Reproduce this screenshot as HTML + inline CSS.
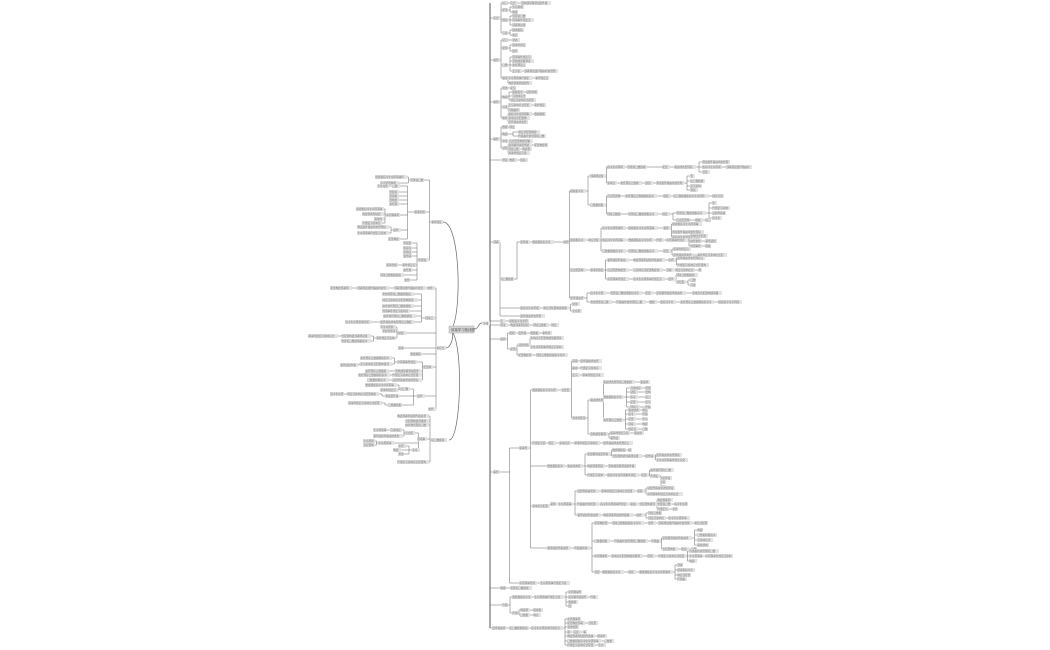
<!DOCTYPE html>
<html><head><meta charset="utf-8"><style>
html,body{margin:0;padding:0;background:#fff;width:1050px;height:650px;overflow:hidden}
svg{display:block}
text{font-family:"Liberation Sans","Noto Sans CJK SC",sans-serif;font-size:2.6px;fill:#777}
</style></head><body>
<svg id="s" width="1050" height="650" viewBox="0 0 1050 650" xmlns="http://www.w3.org/2000/svg">
<g fill="none" stroke="#666" stroke-width="0.7">
<path d="M449,330 C462,330 462,222 443,222"/>
<path d="M449,330 C456,330 452,348 446,348"/>
<path d="M449,330 C464,330 462,440 449,440"/>
<path d="M474,329 C479,329 478,323 482,323"/>
<line x1="490" y1="3" x2="490" y2="628" stroke="#444" stroke-width="0.9"/>
<line x1="489" y1="323" x2="490" y2="323"/>
</g>
<rect x="449" y="326" width="25" height="7" fill="#d6d6d6" stroke="#999" stroke-width="0.4"/>
<text x="451" y="331" style="font-size:3.4px;fill:#555">前端学习路线图</text>
<rect x="482" y="321.5" width="8" height="3.5" fill="#e4e4e4"/>
<text x="483" y="324.3">主线</text>
<g id="g"></g>
</svg>
<script>
function n(x,y,w){return {x:x,y:y,w:w,k:Array.prototype.slice.call(arguments,3)};}
var R=[
// top groups
n(493,18,7,n(502,3,6,n(510,3,8,n(521,3,30))),n(502,10,6,n(512,7,12),n(512,12,6)),n(502,20,6,n(512,16,14),n(512,20,22),n(512,25,14)),n(502,33,6,n(512,30,12),n(512,35,6))),
n(493,60,7,n(502,40,6,n(512,40,8)),n(502,48,6,n(512,45,14),n(512,51,6)),n(502,65,6,n(512,57,20),n(512,61,22),n(512,65,14),n(512,71,10,n(524,71,34))),n(502,78,6,n(508,78,24,n(535,78,14)),n(508,83,24))),
n(493,102,7,n(502,88,6,n(510,88,6)),n(502,97,6,n(512,92,12,n(526,92,12)),n(512,96,14),n(510,100,26)),n(502,107,6,n(508,105,24,n(534,105,12)),n(508,110,12)),n(502,118,6,n(508,114,24,n(534,114,12)),n(508,118,22),n(508,122,20))),
n(493,139,7,n(502,127,6,n(509,127,6)),n(502,134,6,n(518,132,22),n(518,136,28)),n(502,141,6,n(509,141,24)),n(502,148,6,n(508,145,24,n(534,145,14)),n(508,149,12,n(522,149,10)),n(508,153,22))),
n(502,160,6,n(509,160,8,n(520,160,8))),
// big middle group
n(493,242,7,
 n(500,279,14,
  n(520,242,10,n(532,242,22,n(563,242,6,
   n(570,191,16,
    n(590,176,16,n(607,167,18,n(627,167,20,n(662,167,8,n(674,167,22,n(702,162,28),n(702,167,20,n(726,167,26)),n(702,172,8))))),
                 n(607,183,10,n(620,183,22,n(645,183,8,n(656,183,28,n(690,176,5),n(690,181,15),n(690,186,12),n(690,190,8)))))),
    n(590,205,16,n(607,196,14,n(625,196,32,n(663,196,8,n(673,196,36,n(712,196,12))))),
                 n(607,214,14,n(628,214,30,n(662,214,8,n(676,213,30,n(712,203,5),n(712,208,18),n(712,213,14),n(712,218,10)),n(676,220,14,n(695,220,8,n(705,220,6)))))))),
   n(570,240,16,n(588,240,12,
    n(602,228,24,n(628,228,30,n(663,228,8,n(672,224,30),n(672,232,32),n(672,237,28)))),
    n(602,240,24,n(628,240,26,n(656,240,8,n(666,240,22,n(690,236,18),n(690,241,12,n(705,241,12)),n(690,246,12,n(705,246,6)))))),
    n(602,251,24,n(628,251,30,n(663,251,8,n(673,249,18),n(673,255,20,n(697,255,30))))))),
   n(570,270,16,n(590,270,14,
    n(607,260,22,n(633,260,32,n(668,260,8,n(677,258,28),n(677,265,32)))),
    n(607,270,22,n(633,270,30,n(666,270,8,n(675,270,20,n(698,270,4))))),
    n(607,279,22,n(633,279,32,n(668,279,8,n(676,275,22),n(676,282,10,n(690,280,6),n(690,285,6))))))),
   n(570,298,14,
    n(590,293,16,n(610,293,32,n(645,293,8,n(656,293,30,n(692,293,30))))),
    n(590,302,22,n(616,302,30,n(649,302,8,n(660,302,16,n(680,302,34,n(718,302,24))))))))))),
 n(520,308,20,n(543,308,26,n(572,304,8),n(572,311,10))),
 n(520,316,25)),
n(500,321,5,n(509,321,20)),
n(500,325,8,n(510,325,20,n(533,325,16,n(551,325,8)))),
n(500,339,6,n(509,333,7,n(518,333,9,n(530,333,10,n(542,333,10)))),n(510,349,6,n(518,345,12,n(530,338,34),n(530,347,34)),n(518,355,14,n(536,355,32)))),
// lower big group
n(493,472,7,
 n(519,448,10,
  n(532,390,26,n(561,390,10,
    n(572,361,6,n(580,361,22)),n(572,368,6,n(580,368,22)),n(572,375,8,n(582,375,22)),
    n(572,418,14,
     n(590,400,14,n(603,382,32,n(640,382,10)),n(603,397,20,n(630,388,12,n(645,388,6)),n(630,392,8,n(645,392,6)),n(630,397,8,n(645,397,6)),n(630,402,8,n(645,402,6)),n(630,407,10,n(645,407,6))),
                  n(603,420,20,n(628,410,12,n(642,410,6)),n(628,414,8,n(642,414,6)),n(628,419,8,n(642,419,6)),n(628,424,8,n(642,424,6)),n(628,429,10,n(642,429,6)))),
     n(590,434,18,n(610,433,20,n(634,433,10)),n(610,438,10))))),
  n(532,443,14,n(548,443,8,n(559,443,12,n(574,443,26,n(603,443,30))))),
  n(547,466,18,n(567,466,16,
    n(587,454,24,n(612,450,14,n(628,450,4)),n(612,456,30,n(645,456,10,n(656,455,26),n(656,460,32)))),
    n(587,466,18,n(608,466,28)),
    n(587,475,18,n(607,475,32,n(641,475,8,n(650,470,24),n(650,476,10,n(662,478,10),n(662,482,4),n(662,487,4))))))),
  n(532,506,18,n(550,504,6,n(558,504,15,
    n(577,491,22,n(601,491,34,n(637,491,8,n(647,488,28),n(647,494,36)))),
    n(577,504,22,n(600,504,28,n(630,504,8,n(639,504,18,n(657,500,16),n(657,504,14,n(674,504,14)),n(657,509,12,n(672,509,6)))))),
    n(577,515,24,n(603,515,30,n(636,515,8,n(648,513,14),n(648,518,18,n(668,518,22)))))))),
  n(547,548,24,n(574,548,16,
    n(594,523,14,n(612,523,32,n(648,523,8,n(658,523,34,n(694,523,14))))),
    n(594,541,16,n(614,541,34,n(651,541,10,n(662,538,30,n(697,530,6),n(697,535,20),n(697,540,16),n(697,545,12)),n(662,549,16,n(681,549,8,n(691,549,6)))))),
    n(594,556,14,n(611,556,32,n(647,556,8,n(658,556,28,n(689,551,30),n(689,556,14,n(705,556,28)),n(689,561,8))))),
    n(594,572,6,n(602,572,22,n(628,572,8,n(639,572,34,n(677,565,6),n(677,570,18),n(677,575,14),n(677,579,10)))))))),
 n(519,583,18,n(540,583,30))),
n(500,588,6,n(510,588,22)),
n(502,605,6,n(512,597,20,n(534,597,30,n(568,592,14),n(568,597,20,n(590,597,8)),n(568,602,10),n(568,606,4))),
          n(512,613,6,n(520,610,10,n(533,610,10)),n(520,615,10,n(533,615,8)))),
n(492,628,14,n(509,628,20,n(531,628,32,n(567,619,14),n(567,623,18,n(588,623,10)),n(567,627,12),n(567,632,4,n(573,632,8,n(583,632,4))),n(567,636,28,n(597,636,10)),n(567,641,34,n(604,641,10)),n(567,645,28,n(598,645,8)))))
];
// left side: x is left edge of box
var L=[
n(431,222,12,
 n(410,180,14,n(375,177,32),n(380,183,18)),
 n(414,212,12,
   n(392,186,8,n(377,186,12)),n(389,192,10),n(389,196,10),n(389,200,10),n(389,204,10),
   n(386,215,14,n(356,209,28),n(362,214,22),n(374,219,10),n(362,223,20)),
   n(393,230,8,n(357,227,32),n(357,233,32)),
   n(388,239,12)),
 n(418,260,10,n(403,243,9),n(403,248,9),n(403,252,9),n(403,256,9),n(402,265,14,n(386,265,12)),n(403,270,9),n(380,275,24),n(404,280,6))),
n(436,348,10,
 n(427,288,8,n(394,288,32,n(357,288,32,n(330,288,22)))),
 n(425,318,10,n(382,294,32),n(382,300,36),n(382,306,32),n(382,311,28),n(383,316,33),n(380,322,34,n(345,322,26))),
 n(398,333,8,n(380,327,16),n(382,331,14),n(376,338,20,n(341,336,30,n(308,336,30)),n(341,341,30))),
 n(398,348,6),
 n(410,354,12),
 n(423,367,10,n(397,362,20,n(360,358,32),n(360,364,32,n(340,365,18))),n(395,371,26,n(365,371,24)),n(392,375,30,n(358,375,32)),n(392,380,30,n(367,380,22))),
 n(417,396,8,n(400,389,10,n(365,385,32),n(380,390,18)),n(385,396,14,n(347,394,32,n(330,394,14))),n(388,405,14,n(348,403,34))),
 n(428,409,8)),
n(431,440,16,
 n(397,416,32),n(405,421,24),n(405,425,24),
 n(417,439,10,n(405,433,10,n(390,430,12,n(373,430,14)),n(373,436,30)),n(378,443,16,n(363,441,12),n(363,445,12)),n(412,450,8,n(398,446,8),n(393,450,8),n(398,454,6))),
 n(397,462,32))
];
var out=[],chars="组件路由状态管理接口数据模板指令生命周期事件绑定渲染响应式配置构建部署测试";
function box(b){
  out.push('<rect x="'+b.x+'" y="'+(b.y-2)+'" width="'+b.w+'" height="4" fill="#e3e3e3"/>');
  var c=Math.max(1,Math.floor(b.w/2.8)),s="",o=(b.x*7+b.y*3)%chars.length;
  for(var i=0;i<c;i++)s+=chars[(o+i)%chars.length];
  out.push('<text x="'+(b.x+0.4)+'" y="'+(b.y+0.9)+'">'+s+'</text>');
}
function line(a,b,c,d){out.push('<line x1="'+a+'" y1="'+b+'" x2="'+c+'" y2="'+d+'"/>');}
function drawR(p){
  box(p); if(!p.k.length)return;
  var px=p.x+p.w,minx=1e9,ys=[p.y];
  p.k.forEach(function(c){minx=Math.min(minx,c.x);ys.push(c.y);});
  var sx=(px+minx)/2;
  line(px,p.y,sx,p.y);
  line(sx,Math.min.apply(null,ys),sx,Math.max.apply(null,ys));
  p.k.forEach(function(c){line(sx,c.y,c.x,c.y);drawR(c);});
}
function drawL(p){
  box(p); if(!p.k.length)return;
  var px=p.x,maxx=-1e9,ys=[p.y];
  p.k.forEach(function(c){maxx=Math.max(maxx,c.x+c.w);ys.push(c.y);});
  var sx=(px+maxx)/2;
  line(px,p.y,sx,p.y);
  line(sx,Math.min.apply(null,ys),sx,Math.max.apply(null,ys));
  p.k.forEach(function(c){line(sx,c.y,c.x+c.w,c.y);drawL(c);});
}
R.forEach(function(r){line(490,r.y,r.x,r.y);drawR(r);});
L.forEach(drawL);
document.getElementById('g').innerHTML='<g stroke="#666" stroke-width="0.5" fill="none">'+out.filter(function(s){return s.indexOf('<line')==0}).join('')+'</g>'+out.filter(function(s){return s.indexOf('<line')!=0}).join('');
</script>
</body></html>
